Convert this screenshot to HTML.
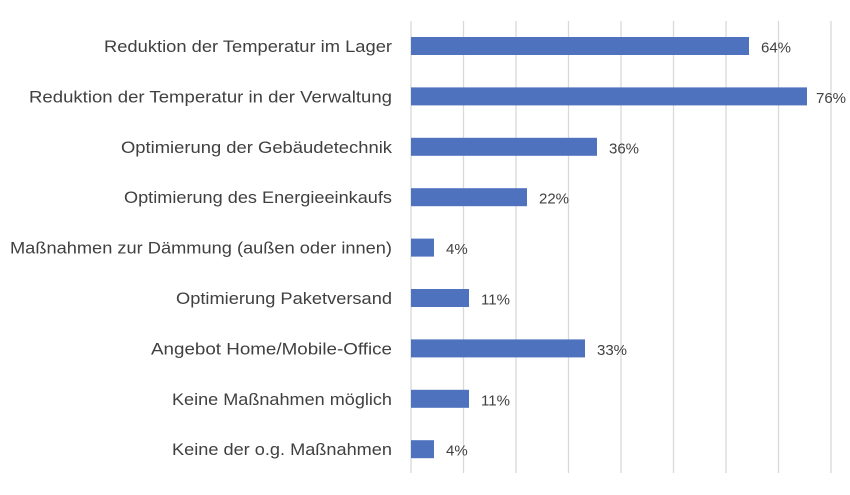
<!DOCTYPE html>
<html><head><meta charset="utf-8"><style>
body{margin:0;background:#fff;}
svg{display:block;font-family:"Liberation Sans",sans-serif;}
</style></head><body>
<svg width="850" height="495" xmlns="http://www.w3.org/2000/svg">
<g stroke="#d9d9d9" stroke-width="1.3">
<line x1="411" y1="21" x2="411" y2="473"/>
<line x1="463.5" y1="21" x2="463.5" y2="473"/>
<line x1="516" y1="21" x2="516" y2="473"/>
<line x1="568.5" y1="21" x2="568.5" y2="473"/>
<line x1="621" y1="21" x2="621" y2="473"/>
<line x1="673.5" y1="21" x2="673.5" y2="473"/>
<line x1="726" y1="21" x2="726" y2="473"/>
<line x1="778.5" y1="21" x2="778.5" y2="473"/>
<line x1="831" y1="21" x2="831" y2="473"/>
</g>
<g fill="#4e72be">
<rect x="411" y="37" width="338" height="18"/>
<rect x="411" y="87.4" width="396" height="18"/>
<rect x="411" y="137.8" width="186" height="18"/>
<rect x="411" y="188.2" width="116" height="18"/>
<rect x="411" y="238.6" width="23" height="18"/>
<rect x="411" y="289" width="58" height="18"/>
<rect x="411" y="339.4" width="174" height="18"/>
<rect x="411" y="389.8" width="58" height="18"/>
<rect x="411" y="440.2" width="23" height="18"/>
</g>
<g fill="#404040" font-size="17" lengthAdjust="spacingAndGlyphs">
<text x="104" y="52" textLength="288" lengthAdjust="spacingAndGlyphs">Reduktion der Temperatur im Lager</text>
<text x="29" y="102.4" textLength="363" lengthAdjust="spacingAndGlyphs">Reduktion der Temperatur in der Verwaltung</text>
<text x="121" y="152.8" textLength="271" lengthAdjust="spacingAndGlyphs">Optimierung der Gebäudetechnik</text>
<text x="124" y="203.2" textLength="268" lengthAdjust="spacingAndGlyphs">Optimierung des Energieeinkaufs</text>
<text x="10" y="253.6" textLength="382" lengthAdjust="spacingAndGlyphs">Maßnahmen zur Dämmung (außen oder innen)</text>
<text x="176" y="304" textLength="216" lengthAdjust="spacingAndGlyphs">Optimierung Paketversand</text>
<text x="151" y="354.4" textLength="241" lengthAdjust="spacingAndGlyphs">Angebot Home/Mobile-Office</text>
<text x="172" y="404.8" textLength="220" lengthAdjust="spacingAndGlyphs">Keine Maßnahmen möglich</text>
<text x="172" y="455.2" textLength="220" lengthAdjust="spacingAndGlyphs">Keine der o.g. Maßnahmen</text>
</g>
<g fill="#404040" font-size="15">
<text x="761" y="52.5">64%</text>
<text x="816" y="102.9">76%</text>
<text x="609" y="153.3">36%</text>
<text x="539" y="203.7">22%</text>
<text x="446" y="254.1">4%</text>
<text x="481" y="304.5">11%</text>
<text x="597" y="354.9">33%</text>
<text x="481" y="405.3">11%</text>
<text x="446" y="455.7">4%</text>
</g>
</svg>
</body></html>
